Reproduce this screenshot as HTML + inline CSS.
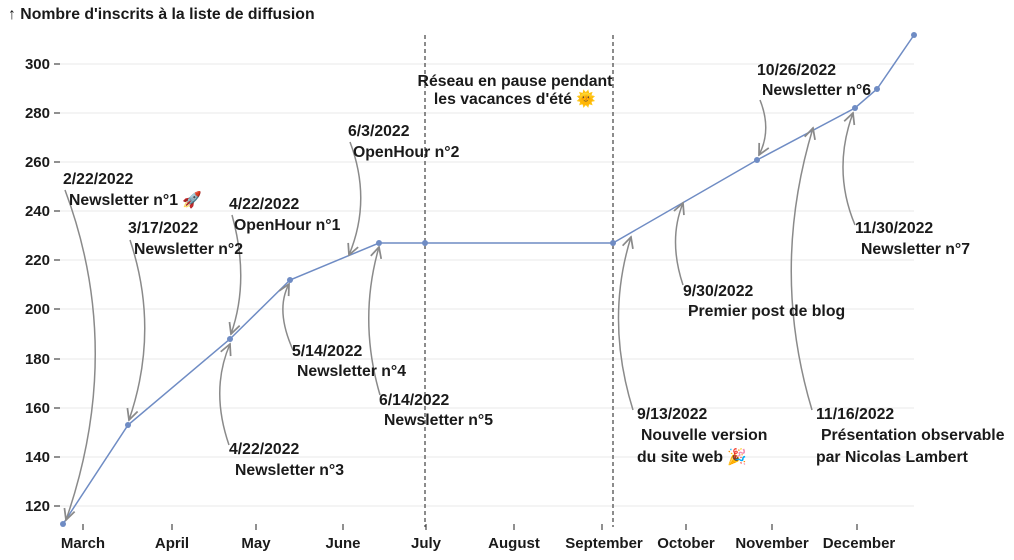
<!DOCTYPE html>
<html><head><meta charset="utf-8"><style>
body{margin:0;background:#fff}
svg{display:block;font-family:"Liberation Sans","DejaVu Sans",sans-serif;font-weight:bold}
.t{font-size:15.8px;fill:#1a1a1a}
.ax{font-size:15px;fill:#1a1a1a}
.a{fill:none;stroke:#8a8a8a;stroke-width:1.5}
</style></head><body>
<svg width="1014" height="560" viewBox="0 0 1014 560">
<defs><marker id="m" viewBox="0 0 10 10" refX="9" refY="5" markerWidth="9" markerHeight="9" orient="auto"><path d="M1,1 L9,5 L1,9" fill="none" stroke="#8a8a8a" stroke-width="1.3"/></marker></defs>
<text x="8" y="19" class="t">↑ Nombre d'inscrits à la liste de diffusion</text>
<g stroke="#e8e8e8" stroke-width="1">
<line x1="60" x2="914" y1="64" y2="64"/><line x1="60" x2="914" y1="113" y2="113"/><line x1="60" x2="914" y1="162" y2="162"/><line x1="60" x2="914" y1="211" y2="211"/><line x1="60" x2="914" y1="260" y2="260"/><line x1="60" x2="914" y1="309" y2="309"/><line x1="60" x2="914" y1="359" y2="359"/><line x1="60" x2="914" y1="408" y2="408"/><line x1="60" x2="914" y1="457" y2="457"/><line x1="60" x2="914" y1="506" y2="506"/>
</g>
<g stroke="#222" stroke-width="1">
<line x1="54" x2="60" y1="64" y2="64"/><line x1="54" x2="60" y1="113" y2="113"/><line x1="54" x2="60" y1="162" y2="162"/><line x1="54" x2="60" y1="211" y2="211"/><line x1="54" x2="60" y1="260" y2="260"/><line x1="54" x2="60" y1="309" y2="309"/><line x1="54" x2="60" y1="359" y2="359"/><line x1="54" x2="60" y1="408" y2="408"/><line x1="54" x2="60" y1="457" y2="457"/><line x1="54" x2="60" y1="506" y2="506"/>
<line x1="83" x2="83" y1="524" y2="530"/><line x1="172" x2="172" y1="524" y2="530"/><line x1="256" x2="256" y1="524" y2="530"/><line x1="343" x2="343" y1="524" y2="530"/><line x1="426" x2="426" y1="524" y2="530"/><line x1="514" x2="514" y1="524" y2="530"/><line x1="602" x2="602" y1="524" y2="530"/><line x1="686" x2="686" y1="524" y2="530"/><line x1="772" x2="772" y1="524" y2="530"/><line x1="857" x2="857" y1="524" y2="530"/>
</g>
<g class="ax" text-anchor="end">
<text x="50" y="69">300</text><text x="50" y="118">280</text><text x="50" y="167">260</text><text x="50" y="216">240</text><text x="50" y="265">220</text><text x="50" y="314">200</text><text x="50" y="364">180</text><text x="50" y="413">160</text><text x="50" y="462">140</text><text x="50" y="511">120</text>
</g>
<g class="ax" text-anchor="middle">
<text x="83" y="548">March</text><text x="172" y="548">April</text><text x="256" y="548">May</text><text x="343" y="548">June</text><text x="426" y="548">July</text><text x="514" y="548">August</text><text x="604" y="548">September</text><text x="686" y="548">October</text><text x="772" y="548">November</text><text x="859" y="548">December</text>
</g>
<g stroke="#666" stroke-width="1.5" stroke-dasharray="4,3">
<line x1="425" x2="425" y1="35" y2="527"/><line x1="613" x2="613" y1="35" y2="527"/>
</g>
<polyline fill="none" stroke="#6f8cc4" stroke-width="1.5" points="63,524 128,425 230,339 290,280 379,243 425,243 613,243 757,160 855,108 877,89 914,35"/>
<g fill="#6f8cc4">
<circle cx="63" cy="524" r="3"/><circle cx="128" cy="425" r="3"/><circle cx="230" cy="339" r="3"/><circle cx="290" cy="280" r="3"/><circle cx="379" cy="243" r="3"/><circle cx="425" cy="243" r="3"/><circle cx="613" cy="243" r="3"/><circle cx="757" cy="160" r="3"/><circle cx="855" cy="108" r="3"/><circle cx="877" cy="89" r="3"/><circle cx="914" cy="35" r="3"/>
</g>
<g class="a" marker-end="url(#m)">
<path d="M65,190 Q125,350 66,520"/>
<path d="M130,240 Q160,330 129,420"/>
<path d="M232,215 Q250,280 231,334"/>
<path d="M229,445 Q210,390 230,344"/>
<path d="M293,350 Q275,310 289,284"/>
<path d="M350,142 Q372,200 349,255"/>
<path d="M380,395 Q358,320 379,247"/>
<path d="M633,410 Q605,320 631,237"/>
<path d="M683,285 Q668,240 683,203"/>
<path d="M760,100 Q772,130 759,155"/>
<path d="M812,410 Q770,270 813,128"/>
<path d="M855,225 Q832,170 853,113"/>
</g>
<g class="t">
<text x="63" y="184">2/22/2022</text><text x="69" y="205">Newsletter n°1 🚀</text>
<text x="128" y="233">3/17/2022</text><text x="134" y="254">Newsletter n°2</text>
<text x="229" y="209">4/22/2022</text><text x="234" y="230">OpenHour n°1</text>
<text x="229" y="454">4/22/2022</text><text x="235" y="475">Newsletter n°3</text>
<text x="292" y="356">5/14/2022</text><text x="297" y="376">Newsletter n°4</text>
<text x="348" y="136">6/3/2022</text><text x="353" y="157">OpenHour n°2</text>
<text x="379" y="405">6/14/2022</text><text x="384" y="425">Newsletter n°5</text>
<text x="515" y="86" text-anchor="middle">Réseau en pause pendant</text><text x="515" y="104" text-anchor="middle">les vacances d'été 🌞</text>
<text x="637" y="419">9/13/2022</text><text x="641" y="440">Nouvelle version</text><text x="637" y="462">du site web 🎉</text>
<text x="683" y="296">9/30/2022</text><text x="688" y="316">Premier post de blog</text>
<text x="757" y="75">10/26/2022</text><text x="762" y="95">Newsletter n°6</text>
<text x="816" y="419">11/16/2022</text><text x="821" y="440">Présentation observable</text><text x="816" y="462">par Nicolas Lambert</text>
<text x="855" y="233">11/30/2022</text><text x="861" y="254">Newsletter n°7</text>
</g>
</svg>
</body></html>
